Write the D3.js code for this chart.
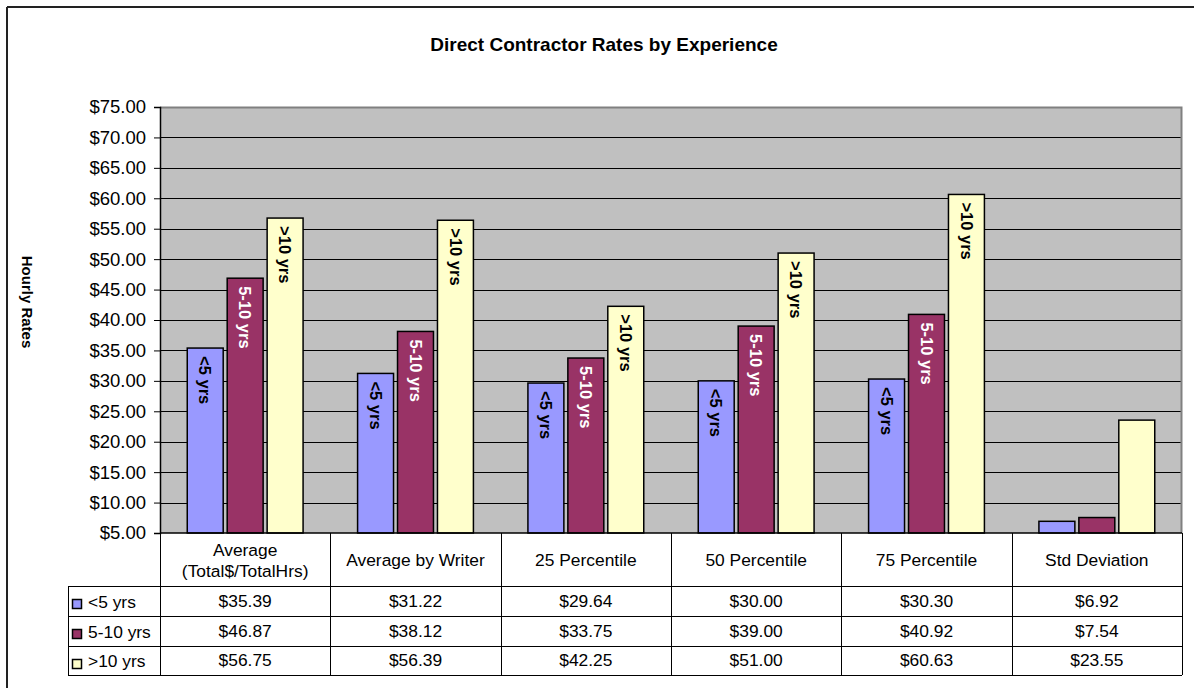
<!DOCTYPE html>
<html>
<head>
<meta charset="utf-8">
<script src="https://cdn.jsdelivr.net/npm/d3@7"></script>
<style>
  html, body { margin: 0; padding: 0; background: #fff; }
  svg { display: block; font-family: "Liberation Sans", Arial, sans-serif; }
</style>
</head>
<body>
<svg id="chart" width="1194" height="688"></svg>
<script>
// ---- Data ----
const categories = ["Average\n(Total$/TotalHrs)", "Average by Writer", "25 Percentile", "50 Percentile", "75 Percentile", "Std Deviation"];
const seriesNames = ["<5 yrs", "5-10 yrs", ">10 yrs"];
const under5 = [35.39, 31.22, 29.64, 30.00, 30.30, 6.92];
const from5to10 = [46.87, 38.12, 33.75, 39.00, 40.92, 7.54];
const over10 = [56.75, 56.39, 42.25, 51.00, 60.63, 23.55];
const seriesValues = [under5, from5to10, over10];
const showBarLabel = [true, true, true, true, true, false];
const yTicks = [5, 10, 15, 20, 25, 30, 35, 40, 45, 50, 55, 60, 65, 70, 75];
const title = "Direct Contractor Rates by Experience";
const yTitle = "Hourly Rates";

// ---- Styles ----
const colors = ["#9999FF", "#993366", "#FFFFCC"];
const labelColors = ["#000", "#fff", "#000"];

const svg = d3.select("#chart");
const plot = { left: 160, right: 1182, top: 107, bottom: 533 };

// outer frame (left & top)
svg.append("line").attr("x1", 7).attr("x2", 7).attr("y1", 7).attr("y2", 688).attr("stroke", "#222").attr("stroke-width", 2);
svg.append("line").attr("x1", 7).attr("x2", 1194).attr("y1", 7).attr("y2", 7).attr("stroke", "#222").attr("stroke-width", 2);

// title
svg.append("text").attr("x", 604).attr("y", 51).attr("text-anchor", "middle")
  .attr("font-size", 19).attr("font-weight", "bold").text(title);

const x0 = d3.scaleBand().domain(d3.range(categories.length)).range([plot.left, plot.right]).padding(0);
const x1 = d3.scaleBand().domain(d3.range(seriesNames.length))
  .range([x0.bandwidth() * 0.16, x0.bandwidth() * 0.84]).paddingInner(0.1).paddingOuter(0);
const y = d3.scaleLinear().domain([5, 75]).range([plot.bottom, plot.top]);

// plot background
svg.append("rect").attr("x", plot.left).attr("y", plot.top)
  .attr("width", plot.right - plot.left).attr("height", plot.bottom - plot.top).attr("fill", "#C0C0C0");

// gridlines
svg.append("g").selectAll("line").data(yTicks.filter(t => t > 5 && t < 75)).join("line")
  .attr("x1", plot.left).attr("x2", plot.right)
  .attr("y1", d => Math.round(y(d)) + 0.5).attr("y2", d => Math.round(y(d)) + 0.5)
  .attr("stroke", "#000").attr("stroke-width", 1);

// plot border (top/right gray)
svg.append("path").attr("d", `M${plot.left},${plot.top + 0.5}H${plot.right - 0.5}V${plot.bottom}`)
  .attr("fill", "none").attr("stroke", "#808080").attr("stroke-width", 2);

// bars
const groups = svg.append("g").selectAll("g").data(categories).join("g")
  .attr("transform", (d, i) => `translate(${x0(i)},0)`);
groups.each(function(cat, ci) {
  const g = d3.select(this);
  seriesValues.forEach((vals, si) => {
    const v = vals[ci];
    const bx = x1(si), bw = x1.bandwidth();
    g.append("rect").attr("x", bx).attr("y", y(v)).attr("width", bw).attr("height", y(5) - y(v))
      .attr("fill", colors[si]).attr("stroke", "#000").attr("stroke-width", 1.5);
    if (showBarLabel[ci]) {
      g.append("text")
        .attr("transform", `translate(${bx + bw / 2},${y(v) + 8}) rotate(90)`)
        .attr("dy", "0.35em").attr("font-size", 16.5).attr("font-weight", "bold")
        .attr("fill", labelColors[si]).text(seriesNames[si]);
    }
  });
});

// y axis
const yAxis = d3.axisLeft(y).tickValues(yTicks).tickSize(6).tickPadding(8)
  .tickFormat(d => "$" + d3.format(".2f")(d));
const ya = svg.append("g").attr("transform", `translate(${plot.left},0)`).call(yAxis);
ya.select(".domain").attr("stroke", "#000").attr("stroke-width", 1.5);
ya.selectAll(".tick line").attr("stroke", "#000");
ya.selectAll(".tick text").attr("font-size", 18.5).attr("fill", "#000")
  .attr("font-family", "'Liberation Sans', Arial, sans-serif");

// x axis baseline
svg.append("line").attr("x1", plot.left).attr("x2", plot.right).attr("y1", plot.bottom).attr("y2", plot.bottom)
  .attr("stroke", "#000").attr("stroke-width", 1.5);

// y title
svg.append("text").attr("transform", "translate(27,302) rotate(90)").attr("text-anchor", "middle")
  .attr("dy", "0.35em").attr("font-size", 15).attr("font-weight", "bold").text(yTitle);

// ---- data table ----
const tbl = { legendLeft: 68, headerTop: plot.bottom, rowTops: [586, 616, 646], bottom: 675 };
const t = svg.append("g");
// horizontal lines
[586, 616, 646, 675].forEach(yy => {
  t.append("line").attr("x1", tbl.legendLeft).attr("x2", plot.right).attr("y1", yy + 0.5).attr("y2", yy + 0.5)
    .attr("stroke", "#000").attr("stroke-width", 1);
});
// vertical lines
t.append("line").attr("x1", tbl.legendLeft + 0.5).attr("x2", tbl.legendLeft + 0.5).attr("y1", 586).attr("y2", 675)
  .attr("stroke", "#000");
d3.range(categories.length + 1).forEach(i => {
  const xx = i < categories.length ? x0(i) : plot.right;
  t.append("line").attr("x1", Math.round(xx) + 0.5).attr("x2", Math.round(xx) + 0.5).attr("y1", plot.bottom).attr("y2", 675)
    .attr("stroke", "#000");
});
// header text
categories.forEach((c, i) => {
  const lines = c.split("\n");
  const cx = x0(i) + x0.bandwidth() / 2;
  const txt = t.append("text").attr("text-anchor", "middle").attr("font-size", 17.4);
  if (lines.length === 1) {
    txt.append("tspan").attr("x", cx).attr("y", 566).text(lines[0]);
  } else {
    txt.append("tspan").attr("x", cx).attr("y", 556).text(lines[0]);
    txt.append("tspan").attr("x", cx).attr("y", 577).text(lines[1]);
  }
});
// rows
const rowBaselines = [607, 637, 666];
seriesValues.forEach((vals, si) => {
  vals.forEach((v, ci) => {
    t.append("text").attr("x", x0(ci) + x0.bandwidth() / 2).attr("y", rowBaselines[si])
      .attr("text-anchor", "middle").attr("font-size", 17.4).text("$" + d3.format(".2f")(v));
  });
  t.append("rect").attr("x", 72.5).attr("y", tbl.rowTops[si] + 13.5).attr("width", 9).attr("height", 9)
    .attr("fill", colors[si]).attr("stroke", "#000").attr("stroke-width", 1.5);
  t.append("text").attr("x", 88).attr("y", rowBaselines[si] + 1).attr("font-size", 17.4).text(seriesNames[si]);
});
</script>
</body>
</html>
